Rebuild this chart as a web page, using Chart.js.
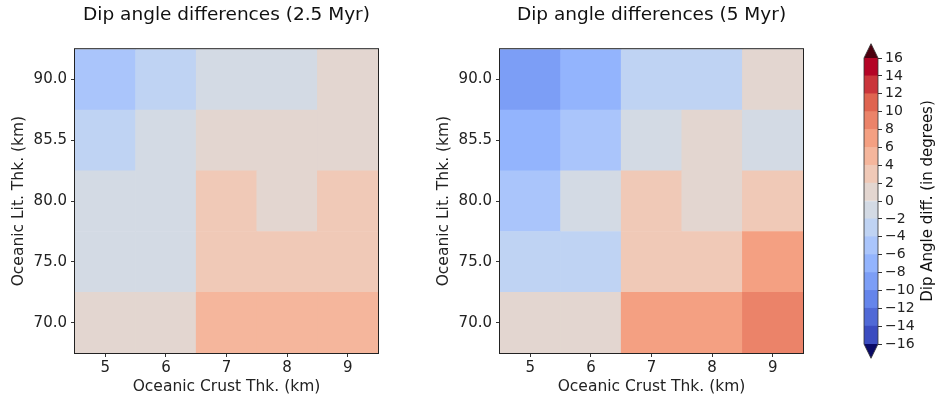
<!DOCTYPE html>
<html>
<head>
<meta charset="utf-8">
<script src="https://cdn.jsdelivr.net/npm/chart.js@4.4.0/dist/chart.umd.min.js"></script>
<style>
  body { margin: 0; background: #fff; }
  #wrap { position: relative; width: 940px; height: 401px; }
  canvas { position: absolute; top: 0; }
</style>
</head>
<body>
<div id="wrap">
  <canvas id="left" width="400" height="401" style="left:0"></canvas>
  <canvas id="right" width="400" height="401" style="left:425px"></canvas>
  <canvas id="cbar" width="100" height="401" style="left:840px"></canvas>
</div>
<script>
// datos (grados), filas de abajo (70.0) hacia arriba (90.0)
const crustThk = ['5', '6', '7', '8', '9'];
const litThk = ['70.0', '75.0', '80.0', '85.5', '90.0'];
const diff25 = [
  [1, 1, 5, 5, 5],
  [-1, -1, 3, 3, 3],
  [-1, -1, 3, 1, 3],
  [-3, -1, 1, 1, 1],
  [-5, -3, -1, -1, 1]
];
const diff5 = [
  [1, 1, 7, 7, 9],
  [-3, -3, 3, 3, 7],
  [-5, -1, 3, 1, 3],
  [-7, -5, -1, 1, -1],
  [-9, -7, -3, -3, 1]
];
const levels = [-16, -14, -12, -10, -8, -6, -4, -2, 0, 2, 4, 6, 8, 10, 12, 14, 16];

// coolwarm aproximado
const coolwarm = [
  [59, 76, 192], [98, 130, 234], [141, 176, 254], [184, 208, 249],
  [221, 221, 221], [245, 196, 173], [244, 154, 123], [222, 96, 77], [180, 4, 38]
];
const underColor = '#0a0a66';
const overColor = '#4c000f';

function cmap(t) {
  const p = t * (coolwarm.length - 1);
  const i = Math.min(Math.floor(p), coolwarm.length - 2);
  const f = p - i;
  const a = coolwarm[i], b = coolwarm[i + 1];
  const c = a.map((v, k) => Math.round(v + (b[k] - v) * f));
  return `rgb(${c[0]},${c[1]},${c[2]})`;
}
const nBins = levels.length - 1;
function colorFor(v) {
  let k = levels.findIndex((l, i) => i < nBins && v >= l && v < levels[i + 1]);
  if (k < 0) k = v < levels[0] ? 0 : nBins - 1;
  return cmap(k / (nBins - 1));
}

Chart.defaults.font.family = 'DejaVu Sans';
Chart.defaults.color = '#222';

const framePlugin = {
  id: 'frame',
  afterDatasetsDraw(chart) {
    const a = chart.chartArea, ctx = chart.ctx;
    ctx.save();
    ctx.strokeStyle = '#222';
    ctx.lineWidth = 1;
    ctx.strokeRect(a.left - 0.5, a.top - 0.5, a.right - a.left + 1, a.bottom - a.top + 1);
    ctx.restore();
  }
};

function makeHeatmap(id, title, grid) {
  new Chart(document.getElementById(id), {
    type: 'bar',
    data: {
      labels: crustThk,
      datasets: litThk.map((lab, r) => ({
        label: lab,
        data: grid[r].map(() => [r - 0.5, r + 0.5]),
        backgroundColor: grid[r].map(colorFor),
        borderWidth: 0,
        barPercentage: 1,
        categoryPercentage: 1,
        grouped: false
      }))
    },
    options: {
      responsive: false,
      animation: false,
      events: [],
      layout: { padding: { top: 0, right: 22, bottom: 0, left: 0 } },
      plugins: {
        legend: { display: false },
        tooltip: { enabled: false },
        title: {
          display: true, text: title, fullSize: false,
          font: { size: 18.5, weight: 'normal' }, color: '#111',
          padding: { top: 4, bottom: 23 }
        }
      },
      scales: {
        x: {
          grid: { offset: false, drawOnChartArea: false, tickLength: 4, color: '#333' },
          border: { display: false },
          ticks: { font: { size: 15 }, padding: 2, maxRotation: 0 },
          title: { display: true, text: 'Oceanic Crust Thk. (km)', font: { size: 15.5 }, padding: { top: 0, bottom: 5 } },
          afterFit(scale) { scale.height = 48; }
        },
        y: {
          min: -0.5, max: 4.5,
          grid: { drawOnChartArea: false, tickLength: 4, color: '#333' },
          border: { display: false },
          afterBuildTicks(scale) { scale.ticks = litThk.map((_, i) => ({ value: i })); },
          ticks: { font: { size: 15 }, padding: 4, callback: (v) => litThk[v] },
          title: { display: true, text: 'Oceanic Lit. Thk. (km)', font: { size: 15.5 }, padding: { top: 10, bottom: 0 } },
          afterFit(scale) { scale.width = 75; }
        }
      }
    },
    plugins: [framePlugin]
  });
}

makeHeatmap('left', 'Dip angle differences (2.5 Myr)', diff25);
makeHeatmap('right', 'Dip angle differences (5 Myr)', diff5);

// barra de color con extensiones
const cbarPlugin = {
  id: 'cbarExtend',
  afterDatasetsDraw(chart) {
    const a = chart.chartArea, ctx = chart.ctx;
    const ext = (a.bottom - a.top) * 0.05;
    const mid = (a.left + a.right) / 2;
    ctx.save();
    ctx.fillStyle = overColor;
    ctx.beginPath();
    ctx.moveTo(a.left, a.top); ctx.lineTo(mid, a.top - ext); ctx.lineTo(a.right, a.top);
    ctx.closePath(); ctx.fill();
    ctx.fillStyle = underColor;
    ctx.beginPath();
    ctx.moveTo(a.left, a.bottom); ctx.lineTo(mid, a.bottom + ext); ctx.lineTo(a.right, a.bottom);
    ctx.closePath(); ctx.fill();
    ctx.strokeStyle = '#333';
    ctx.lineWidth = 0.8;
    ctx.beginPath();
    ctx.moveTo(a.left, a.top); ctx.lineTo(mid, a.top - ext); ctx.lineTo(a.right, a.top);
    ctx.lineTo(a.right, a.bottom); ctx.lineTo(mid, a.bottom + ext); ctx.lineTo(a.left, a.bottom);
    ctx.closePath(); ctx.stroke();
    // etiqueta vertical
    ctx.fillStyle = '#111';
    ctx.font = '15px "DejaVu Sans"';
    ctx.textAlign = 'center';
    ctx.textBaseline = 'middle';
    ctx.translate(88, (a.top + a.bottom) / 2);
    ctx.rotate(-Math.PI / 2);
    ctx.fillText('Dip Angle diff. (in degrees)', 0, 0);
    ctx.restore();
  }
};

new Chart(document.getElementById('cbar'), {
  type: 'bar',
  data: {
    labels: [''],
    datasets: levels.slice(0, -1).map((lo, i) => ({
      data: [[lo, levels[i + 1]]],
      backgroundColor: cmap(i / (nBins - 1)),
      borderWidth: 0,
      barPercentage: 1,
      categoryPercentage: 1,
      grouped: false
    }))
  },
  options: {
    responsive: false,
    animation: false,
    events: [],
    layout: { padding: { top: 58, right: 0, bottom: 57, left: 24 } },
    plugins: { legend: { display: false }, tooltip: { enabled: false } },
    scales: {
      x: { display: false },
      y: {
        position: 'right',
        min: levels[0], max: levels[levels.length - 1],
        grid: { drawOnChartArea: false, tickLength: 4, color: '#333' },
        border: { display: false },
        afterBuildTicks(scale) { scale.ticks = levels.map(v => ({ value: v })); },
        ticks: {
          font: { size: 14, lineHeight: 1 }, padding: 3, autoSkip: false,
          callback: (v) => String(v).replace('-', '\u2212')
        },
        afterFit(scale) { scale.width = 62; }
      }
    }
  },
  plugins: [cbarPlugin]
});
</script>
</body>
</html>
